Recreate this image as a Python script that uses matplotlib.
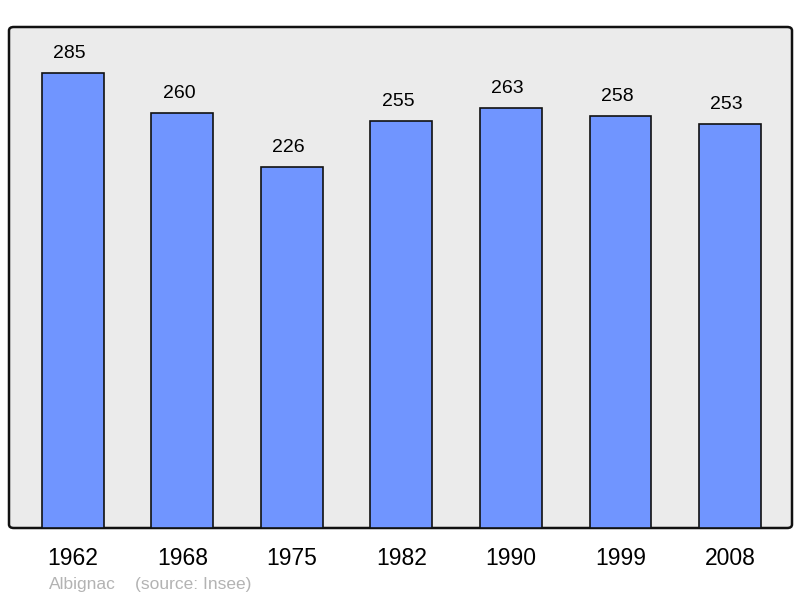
import numpy as np
import matplotlib.pyplot as plt
from matplotlib.patches import FancyBboxPatch

plt.rcParams['font.family'] = ['Liberation Sans', 'DejaVu Sans']

years = ['1962', '1968', '1975', '1982', '1990', '1999', '2008']
population = [285, 260, 226, 255, 263, 258, 253]

fig = plt.figure(figsize=(8, 5.98), dpi=100)
ax = fig.add_axes([9/800, 70/598, 783/800, 501/598])
ax.set_facecolor('none')
ax.set_zorder(2)

# fond gris arrondi
frame = FancyBboxPatch((9/800, 70/598), 783/800, 501/598,
                       boxstyle='round,pad=0,rounding_size=0.006',
                       transform=fig.transFigure, facecolor='#ebebeb',
                       edgecolor='#111111', linewidth=1.8, zorder=-1)
fig.patches.append(frame)

x = np.arange(len(years))
ax.bar(x, population, width=0.566, color='#7095ff', edgecolor='#111111',
       linewidth=1.2, zorder=2)
for xi, v in zip(x, population):
    ax.text(xi - 0.03, v + 7, str(v), ha='center', va='bottom', fontsize=14)

ax.set_xlim(-0.584, 6.566)
ax.set_ylim(0, 314)
for s in ax.spines.values():
    s.set_visible(False)
ax.set_yticks([])
ax.set_xticks(x)
ax.set_xticklabels(years, fontsize=16.5)
ax.tick_params(axis='x', length=0, pad=14)

fig.text(49/800, 1 - 584/598, 'Albignac', color='#b3b3b3',
         fontsize=12.5, va='center', ha='left')
fig.text(135/800, 1 - 584/598, '(source: Insee)', color='#b3b3b3',
         fontsize=12.5, va='center', ha='left')

fig.savefig('out.png', dpi=100)
